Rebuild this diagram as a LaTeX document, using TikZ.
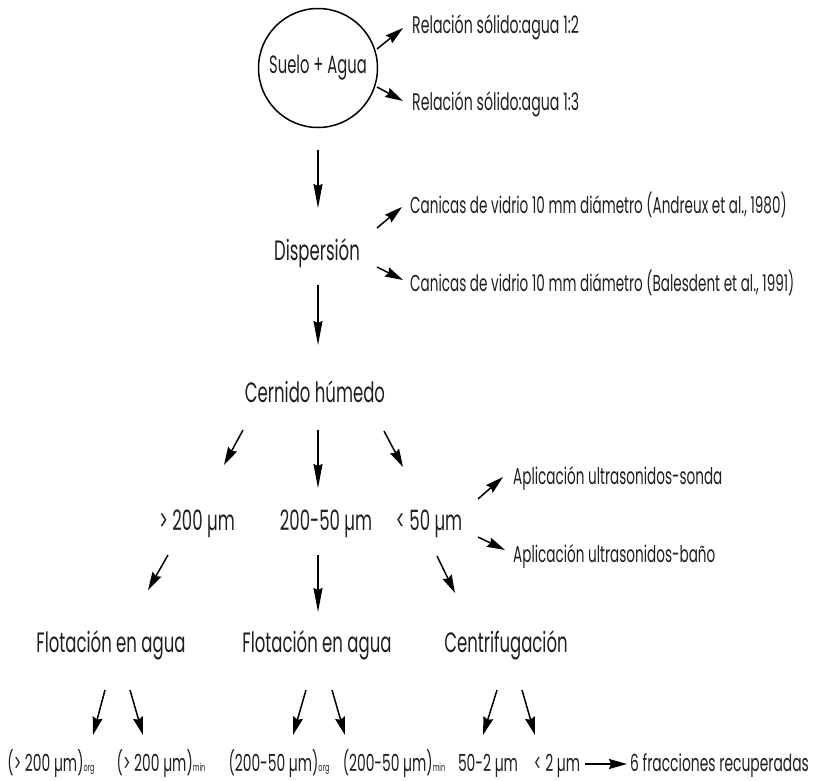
\documentclass[tikz,border=0pt]{standalone}
\usepackage{fontspec}
\setmainfont{Poppins}[FakeStretch=0.59]
\usetikzlibrary{arrows.meta}
\newcommand\lowsub[1]{{\fontsize{11}{11}\selectfont #1}}
\begin{document}
\begin{tikzpicture}[x=1pt,y=-1pt,
  txt/.style={inner sep=0pt, font=\fontsize{28}{28}\selectfont, text=black!88},
  smalltxt/.style={inner sep=0pt, font=\fontsize{23}{23}\selectfont, text=black!88},
  bottxt/.style={inner sep=0pt, font=\fontsize{23.5}{23.5}\selectfont, text=black!88},
  arr/.style={line width=1.5pt, -{Stealth[length=18pt,width=10pt,inset=2pt]}},
  longarr/.style={line width=1.5pt, -{Stealth[length=24pt,width=9pt,inset=2pt]}}]
\useasboundingbox (0,0) rectangle (814,780);
% nodes
\node[draw, circle, line width=1.5pt, minimum size=119pt, inner sep=0pt, font=\fontsize{25}{25}\selectfont, text=black!88] (suelo) at (318,68) {Suelo + Agua};
\node[smalltxt, font=\fontsize{24}{24}\selectfont, anchor=base west] (rel1) at (412,33) {Relación sólido:agua 1:2};
\node[smalltxt, font=\fontsize{24}{24}\selectfont, anchor=base west] (rel2) at (412,110) {Relación sólido:agua 1:3};
\node[txt, anchor=base] (disp) at (317,260) {Dispersión};
\node[smalltxt, anchor=base west] (can1) at (410,213) {Canicas de vidrio 10 mm diámetro (Andreux et al., 1980)};
\node[smalltxt, anchor=base west] (can2) at (410,291) {Canicas de vidrio 10 mm diámetro (Balesdent et al., 1991)};
\node[txt, anchor=base] (cern) at (315,402) {Cernido húmedo};
\node[txt, anchor=base] (g200) at (197,530) {> 200 µm};
\node[txt, anchor=base] (m200) at (326,530) {200-50 µm};
\node[txt, anchor=base] (l50) at (429,530) {< 50 µm};
\node[smalltxt, anchor=base west] (ap1) at (513,484) {Aplicación ultrasonidos-sonda};
\node[smalltxt, anchor=base west] (ap2) at (513,562) {Aplicación ultrasonidos-baño};
\node[txt, anchor=base] (flot1) at (111,652) {Flotación en agua};
\node[txt, anchor=base] (flot2) at (317,652) {Flotación en agua};
\node[txt, anchor=base] (cent) at (506,652) {Centrifugación};
\node[bottxt, anchor=base] (f1) at (51,771) {(> 200 µm)\lowsub{org}};
\node[bottxt, anchor=base] (f2) at (161,771) {(> 200 µm)\lowsub{min}};
\node[bottxt, anchor=base] (f3) at (279,771) {(200-50 µm)\lowsub{org}};
\node[bottxt, anchor=base] (f4) at (394,771) {(200-50 µm)\lowsub{min}};
\node[bottxt, anchor=base] (f5) at (488,771) {50-2 µm};
\node[bottxt, anchor=base] (f6) at (557,771) {< 2 µm};
\node[bottxt, anchor=base west] (fin) at (630,771) {6 fracciones recuperadas};
% arrow end points
\foreach \n/\a/\b/\c/\d in {r1/377/49/403/28, r2/377/87/403/101, c1/377/228/402/207, c2/377/267/403/280,
  k1/243/430/224/465, k3/384/431/403/467, ap1/478/499/503/477, ap2/478/537/505/550,
  m1/168/555/148/590, m3/437/556/455/593,
  b1/105/690/93/735, b2/130/690/143/735, b3/306/690/293/735, b4/332/690/345/735, b5/497/690/483/735, b6/522/690/535/735,
  v1/318/150/318/208, v2/318/285/318/345, k2/318/430/318/488, m2/318/555/318/612, fa/585/764/627/764}
  {\coordinate (\n s) at (\a,\b); \coordinate (\n e) at (\c,\d);}
\foreach \n in {r1,r2,c1,c2,k1,k3,ap1,ap2,m1,m3,b1,b2,b3,b4,b5,b6,fa}
  \draw[arr] (\n s) -- (\n e);
\foreach \n in {v1,v2,k2,m2}
  \draw[longarr] (\n s) -- (\n e);
\end{tikzpicture}
\end{document}
